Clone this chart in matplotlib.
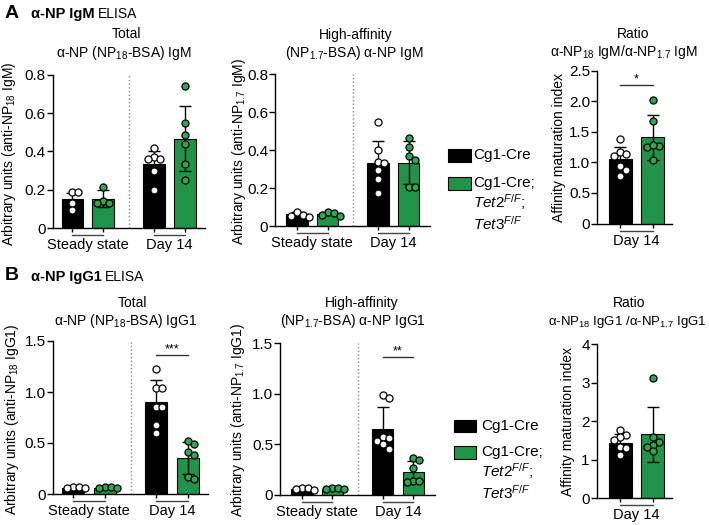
import matplotlib
matplotlib.use("Agg")
import matplotlib.pyplot as plt
import numpy as np
from matplotlib import transforms
from matplotlib.patches import Rectangle

plt.rcParams['font.family'] = 'Liberation Sans'
plt.rcParams['mathtext.fontset'] = 'custom'
plt.rcParams['mathtext.rm'] = 'Liberation Sans'
plt.rcParams['mathtext.it'] = 'Liberation Sans:italic'
plt.rcParams['mathtext.bf'] = 'Liberation Sans:bold'

# ---- data ----
groups = ['Steady state', 'Day 14']
legend_labels = ['Cg1-Cre', 'Cg1-Cre;\n$\\mathit{Tet2}^{\\mathit{F/F}}$;\n$\\mathit{Tet3}^{\\mathit{F/F}}$']

# A: IgM, total (NP18)
igm_total_mean = [0.15, 0.153, 0.335, 0.466]
igm_total_sd = [0.035, 0.045, 0.07, 0.17]
igm_total_pts = [[0.19, 0.19, 0.13, 0.095],
                 [0.215, 0.14, 0.13, 0.13],
                 [0.42, 0.37, 0.36, 0.36, 0.30, 0.20],
                 [0.74, 0.55, 0.485, 0.44, 0.335, 0.25]]
# A: IgM, high affinity (NP1.7)
igm_high_mean = [0.062, 0.064, 0.333, 0.334]
igm_high_sd = [0.01, 0.008, 0.114, 0.113]
igm_high_pts = [[0.075, 0.06, 0.055, 0.05],
                [0.075, 0.07, 0.06, 0.055],
                [0.545, 0.40, 0.335, 0.33, 0.295, 0.25, 0.175],
                [0.465, 0.415, 0.37, 0.345, 0.205, 0.205]]
# A: IgM ratio
igm_ratio_mean = [1.05, 1.415]
igm_ratio_sd = [0.20, 0.37]
igm_ratio_pts = [[1.38, 1.17, 1.14, 1.10, 0.95, 0.87, 0.78],
                 [2.02, 1.68, 1.27, 1.26, 1.28, 1.04]]

# B: IgG1, total (NP18)
igg_total_mean = [0.062, 0.062, 0.905, 0.352]
igg_total_sd = [0.008, 0.008, 0.21, 0.158]
igg_total_pts = [[0.07, 0.065, 0.06, 0.055],
                 [0.07, 0.065, 0.06, 0.055],
                 [1.225, 1.04, 1.04, 0.855, 0.855, 0.68, 0.60],
                 [0.52, 0.49, 0.415, 0.38, 0.17, 0.147]]
# B: IgG1, high affinity (NP1.7)
igg_high_mean = [0.058, 0.06, 0.655, 0.232]
igg_high_sd = [0.008, 0.008, 0.219, 0.10]
igg_high_pts = [[0.07, 0.065, 0.055, 0.05],
                [0.07, 0.065, 0.06, 0.055],
                [0.99, 0.96, 0.57, 0.56, 0.53, 0.50, 0.45],
                [0.37, 0.346, 0.27, 0.142, 0.142, 0.125]]
# B: IgG1 ratio
igg_ratio_mean = [1.43, 1.66]
igg_ratio_sd = [0.25, 0.72]
igg_ratio_pts = [[1.78, 1.65, 1.60, 1.52, 1.33, 1.30, 1.13],
                 [3.12, 1.60, 1.47, 1.39, 1.34, 1.22]]

GREEN = '#22944a'
GREEN_PT = '#2ea653'

W, H = 709, 525
fig = plt.figure(figsize=(W / 100, H / 100), dpi=100)


def px_axes(x0, x1, ytop, ybot):
    return fig.add_axes([x0 / W, 1 - ybot / H, (x1 - x0) / W, (ybot - ytop) / H])


def swarm(vals, ymax, h_px, unit_px, d=6.0):
    # simple beeswarm offsets so the dots don't pile up
    ypx = np.array(vals) / ymax * h_px
    order = np.argsort(-ypx)
    cand = [0.0]
    for k in range(1, 8):
        cand += [k * d / 2, -k * d / 2]
    placed = []
    offs = np.zeros(len(vals))
    for i in order:
        for c in cand:
            if all((c - px) ** 2 + (ypx[i] - py) ** 2 >= d ** 2 for px, py in placed):
                break
        placed.append((c, ypx[i]))
        offs[i] = c / unit_px
    return offs


def panel(ax, pos, means, sds, pts, ymax, yticks, yticklabels, xlim, h_px, unit_px, grp_spans):
    ax.set_xlim(*xlim)
    ax.set_ylim(0, ymax)
    for i, x in enumerate(pos):
        ko = i % 2 == 1
        ax.bar(x, means[i], width=0.7, color=GREEN if ko else 'black',
               edgecolor='black', linewidth=0.8, zorder=1)
        ax.errorbar(x, means[i], yerr=sds[i], color='black', capsize=4,
                    elinewidth=1, capthick=1, zorder=2)
        off = swarm(pts[i], ymax, h_px, unit_px)
        ax.scatter(x + off, pts[i], s=26, facecolor=GREEN_PT if ko else 'white',
                   edgecolor='black', linewidth=0.9, zorder=3, clip_on=False)
    for s in ['top', 'right']:
        ax.spines[s].set_visible(False)
    for s in ['left', 'bottom']:
        ax.spines[s].set_linewidth(1)
    ax.set_yticks(yticks)
    ax.set_yticklabels(yticklabels)
    ax.set_xticks(pos)
    ax.set_xticklabels([])
    ax.tick_params(axis='y', length=4, width=1, labelsize=11, pad=1)
    ax.tick_params(axis='x', length=3, width=1)
    trans = transforms.blended_transform_factory(ax.transData, ax.transAxes)
    line_t = transforms.offset_copy(trans, fig=fig, y=-7, units='dots')
    text_t = transforms.offset_copy(trans, fig=fig, y=-17, units='dots')
    for (a, b), lab in grp_spans:
        ax.plot([a, b], [0, 0], color='#444444', lw=1, transform=line_t, clip_on=False)
        ax.text((a + b) / 2, 0, lab, transform=text_t, ha='center', va='center', fontsize=10.5)


def sig(ax, x0, x1, y, stars):
    ax.plot([x0, x1], [y, y], color='#333333', lw=1)
    ax.text((x0 + x1) / 2, y, stars, ha='center', va='bottom', fontsize=9)


pos4 = [0, 1, 2.65, 3.65]
pos2 = [0, 1]
spans4 = [((0, 1), groups[0]), ((2.65, 3.65), groups[1])]
spans2 = [((0, 1), groups[1])]

# ---------------- row A ----------------
ax = px_axes(52.7, 205, 75, 228)
panel(ax, pos4, igm_total_mean, igm_total_sd, igm_total_pts, 0.8,
      [0, 0.2, 0.4, 0.6, 0.8], ['0', '0.2', '0.4', '0.6', '0.8'],
      (-0.64, 4.3), 153, 30.8, spans4)
ax.axvline(1.825, color='#888888', ls=':', lw=1)

ax = px_axes(275, 430, 74, 226)
panel(ax, pos4, igm_high_mean, igm_high_sd, igm_high_pts, 0.8,
      [0, 0.2, 0.4, 0.6, 0.8], ['0', '0.2', '0.4', '0.6', '0.8'],
      (-0.72, 4.35), 152, 30.6, spans4)
ax.axvline(1.825, color='#888888', ls=':', lw=1)

ax = px_axes(597, 672, 71, 223.5)
panel(ax, pos2, igm_ratio_mean, igm_ratio_sd, igm_ratio_pts, 2.5,
      [0, 0.5, 1.0, 1.5, 2.0, 2.5], ['0', '0.5', '1.0', '1.5', '2.0', '2.5'],
      (-0.7, 1.58), 152.5, 33, spans2)
sig(ax, 0, 1, 2.27, '*')

# ---------------- row B ----------------
ax = px_axes(52.7, 208, 341, 494)
panel(ax, pos4, igg_total_mean, igg_total_sd, igg_total_pts, 1.5,
      [0, 0.5, 1.0, 1.5], ['0', '0.5', '1.0', '1.5'],
      (-0.66, 4.3), 153, 31.3, spans4)
ax.axvline(1.825, color='#888888', ls=':', lw=1)
sig(ax, 2.65, 3.65, 1.36, '***')

ax = px_axes(280, 434.6, 343.3, 495)
panel(ax, pos4, igg_high_mean, igg_high_sd, igg_high_pts, 1.5,
      [0, 0.5, 1.0, 1.5], ['0', '0.5', '1.0', '1.5'],
      (-0.72, 4.35), 151.7, 30.5, spans4)
ax.axvline(1.825, color='#888888', ls=':', lw=1)
sig(ax, 2.65, 3.65, 1.365, '**')

ax = px_axes(596.7, 672, 344.3, 498.3)
panel(ax, pos2, igg_ratio_mean, igg_ratio_sd, igg_ratio_pts, 4,
      [0, 1, 2, 3, 4], ['0', '1', '2', '3', '4'],
      (-0.72, 1.59), 154, 32.5, spans2)


# ---------------- texts ----------------
def ftext(x, y, s, **kw):
    return fig.text(x / W, 1 - y / H, s, **kw)


renderer = fig.canvas.get_renderer()
for letter, bold, y in [('A', 'α-NP IgM', 14), ('B', 'α-NP IgG1', 277)]:
    ftext(5, y - 1, letter, fontsize=14, fontweight='bold', va='center')
    t = ftext(31, y, bold, fontsize=10.5, fontweight='bold', va='center')
    bb = t.get_window_extent(renderer)
    ftext(bb.x1 + 3.5, y, 'ELISA', fontsize=10, va='center')

tkw = dict(fontsize=10, ha='center', va='center')
ftext(126, 34, 'Total', **tkw)
ftext(124, 53, 'α-NP (NP$_{18}$-BSA) IgM', **tkw)
ftext(356, 35, 'High-affinity', **tkw)
ftext(354, 53, '(NP$_{1.7}$-BSA) α-NP IgM', **tkw)
ftext(633, 34, 'Ratio', **tkw)
ftext(624, 52, 'α-NP$_{18}$ IgM/α-NP$_{1.7}$ IgM', **tkw)
ftext(132, 303, 'Total', **tkw)
ftext(126, 321, 'α-NP (NP$_{18}$-BSA) IgG1', **tkw)
ftext(362, 303, 'High-affinity', **tkw)
ftext(353, 321, '(NP$_{1.7}$-BSA) α-NP IgG1', **tkw)
ftext(629, 303, 'Ratio', **tkw)
ftext(627, 322, 'α-NP$_{18}$ IgG1 /α-NP$_{1.7}$ IgG1', fontsize=9.5, ha='center', va='center')

ykw = dict(fontsize=10, ha='center', va='center', rotation=90)
ftext(9, 154, 'Arbitrary units (anti-NP$_{18}$ IgM)', **ykw)
ftext(239, 151, 'Arbitrary units (anti-NP$_{1.7}$ IgM)', **ykw)
ftext(559, 148, 'Affinity maturation index', **ykw)
ftext(12, 419, 'Arbitrary units (anti-NP$_{18}$ IgG1)', **ykw)
ftext(238, 420, 'Arbitrary units (anti-NP$_{1.7}$ IgG1)', **ykw)
ftext(568, 421, 'Affinity maturation index', **ykw)


# ---------------- legends ----------------
def legend(x0, y_black, y_green, x_text):
    for y, c in [(y_black, 'black'), (y_green, GREEN)]:
        fig.patches.append(Rectangle((x0 / W, 1 - (y + 12.5) / H), 23 / W, 12.5 / H,
                                     facecolor=c, edgecolor='black', lw=0.8,
                                     transform=fig.transFigure))
    ftext(x_text, y_black + 6.5, legend_labels[0], fontsize=11, va='center')
    ftext(x_text, y_green - 1, legend_labels[1], fontsize=11, va='top', linespacing=1.15)


legend(448, 149, 177, 473)
legend(453.5, 419.5, 446, 481)

fig.savefig('out.png', dpi=100)
